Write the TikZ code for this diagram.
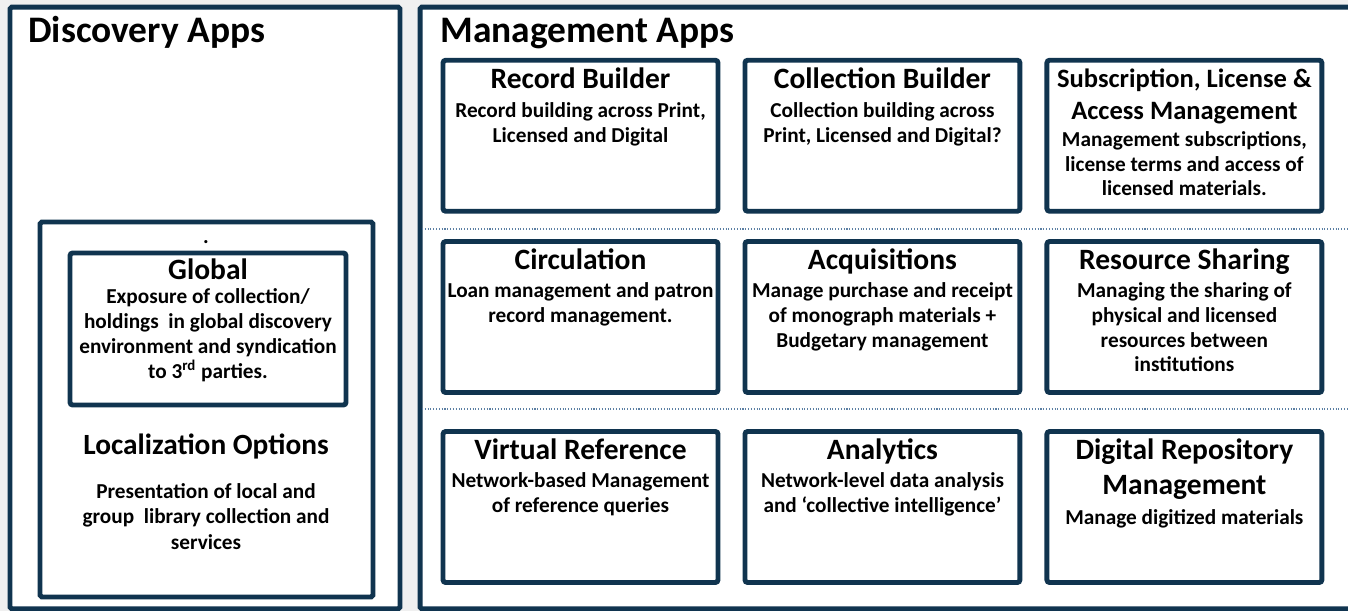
\documentclass[tikz,border=0pt]{standalone}
\usepackage{fontspec}
\setmainfont{Carlito}
\usetikzlibrary{positioning}
\definecolor{navy}{HTML}{10344F}
\definecolor{sepblue}{HTML}{5B7FA3}
\definecolor{canvas}{HTML}{F0F0F0}
\newcommand{\paneltitle}{\fontsize{21.3}{25}\selectfont\bfseries}
\newcommand{\bodyfont}{\fontsize{12.1}{14}\selectfont\bfseries}
\newcommand{\loctitlefont}{\fontsize{16.7}{20}\selectfont\bfseries}
\newcommand{\apptitle}[1]{{\fontsize{16.8}{18}\selectfont\rule{0pt}{14pt}#1}}
\newcommand{\smalltitle}[1]{{\fontsize{15.1}{18}\selectfont\rule{0pt}{14pt}#1}}
\newcommand{\titlerest}[2]{{\fontsize{#1}{18}\selectfont #2}}
\tikzstyle{panel} = [rectangle, rounded corners=1pt, draw=navy, fill=white, line width=2.8pt]
\tikzstyle{appbox} = [rectangle, rounded corners=1.5pt, minimum width=5.5cm, minimum height=3.02cm, draw=navy, fill=white, line width=2.8pt]
\tikzstyle{apptext} = [align=center, inner sep=0pt, font=\bodyfont]
\tikzstyle{separator} = [densely dotted, draw=sepblue, line width=0.6pt]

\begin{document}
\begin{tikzpicture}[x=0.02cm, y=-0.02cm, node distance=6.04cm]
		\fill [canvas] (0,0) rectangle (1348,611);
		\useasboundingbox (0,0) rectangle (1348,611);

		% the two panels
		\node (disc) [panel, minimum width=7.8cm, minimum height=12.04cm] at (205,308) {};
		\node (mgmt) [panel, minimum width=18.8cm, minimum height=12.04cm] at (890,308) {};
		\node (disc_title) [anchor=base west, inner sep=0pt, font=\paneltitle] at (28,43) {Discovery Apps};
		\node (mgmt_title) [anchor=base west, inner sep=0pt, font=\paneltitle] at (440,43) {Management Apps};

		% discovery side
		\node (local) [panel, minimum width=6.66cm, minimum height=7.5cm] at (206.5,409.5) {};
		\node (dot) [anchor=base, font=\bodyfont] at (206,243) {.};
		\node (global) [appbox, minimum width=5.52cm, minimum height=3.04cm] at (208,329) {};
		\node (global_text) [apptext, below=2.1pt of global.north] {\apptitle{Global}\\ Exposure of collection/\\[0.2pt] holdings~ in global discovery\\[0.2pt] environment and syndication\\[0.2pt] to 3\textsuperscript{rd} parties.};
		\node (local_title) [anchor=base, inner sep=0pt, font=\loctitlefont] at (206,454) {Localization Options};
		\node (local_text) [apptext, below=14.9pt of local_title.base] {\rule{0pt}{10pt}Presentation of local and\\[0.7pt] group~ library collection and\\[0.7pt] services};

		% management side, row by row
		\node (record) [appbox] at (580.5,135.75) {};
		\node (collection) [appbox, right of=record] {};
		\node (license) [appbox, right of=collection] {};
		\node (circulation) [appbox] at (580.5,317) {};
		\node (acquisitions) [appbox, right of=circulation] {};
		\node (sharing) [appbox, right of=acquisitions] {};
		\node (reference) [appbox] at (580.5,507) {};
		\node (analytics) [appbox, right of=reference] {};
		\node (repository) [appbox, right of=analytics] {};

		\node (record_text) [apptext, below=3.5pt of record.north] {\apptitle{Record Builder}\\[2.4pt] Record building across Print,\\ Licensed and Digital};
		\node (collection_text) [apptext, below=3.5pt of collection.north] {\apptitle{Collection Builder}\\[2.4pt] Collection building across\\ Print, Licensed and Digital?};
		\node (license_text) [apptext, below=2.9pt of license.north] {\smalltitle{Subscription, License \&}\\[4pt] \titlerest{15.1}{Access Management}\\[1.5pt] Management subscriptions,\\ license terms and access of\\ licensed materials.};
		\node (circulation_text) [apptext, below=2.9pt of circulation.north] {\apptitle{Circulation}\\[2.4pt] Loan management and patron\\ record management.};
		\node (acquisitions_text) [apptext, below=2.9pt of acquisitions.north] {\apptitle{Acquisitions}\\[2.4pt] Manage purchase and receipt\\ of monograph materials +\\ Budgetary management};
		\node (sharing_text) [apptext, below=2.9pt of sharing.north] {\apptitle{Resource Sharing}\\[2.4pt] Managing the sharing of\\ physical and licensed\\ resources between\\ institutions};
		\node (reference_text) [apptext, below=2.9pt of reference.north] {\apptitle{Virtual Reference}\\[2.4pt] Network-based Management\\ of reference queries};
		\node (analytics_text) [apptext, below=2.9pt of analytics.north] {\apptitle{Analytics}\\[2.4pt] Network-level data analysis\\ and ‘collective intelligence’};
		\node (repository_text) [apptext, below=2.9pt of repository.north] {\apptitle{Digital Repository}\\[6pt] \titlerest{16.8}{Management}\\[3pt] Manage digitized materials};

		% dotted row separators
		\draw [separator] (422,229) -- (1348,229);
		\draw [separator] (422,409) -- (1348,409);
\end{tikzpicture}
\end{document}
